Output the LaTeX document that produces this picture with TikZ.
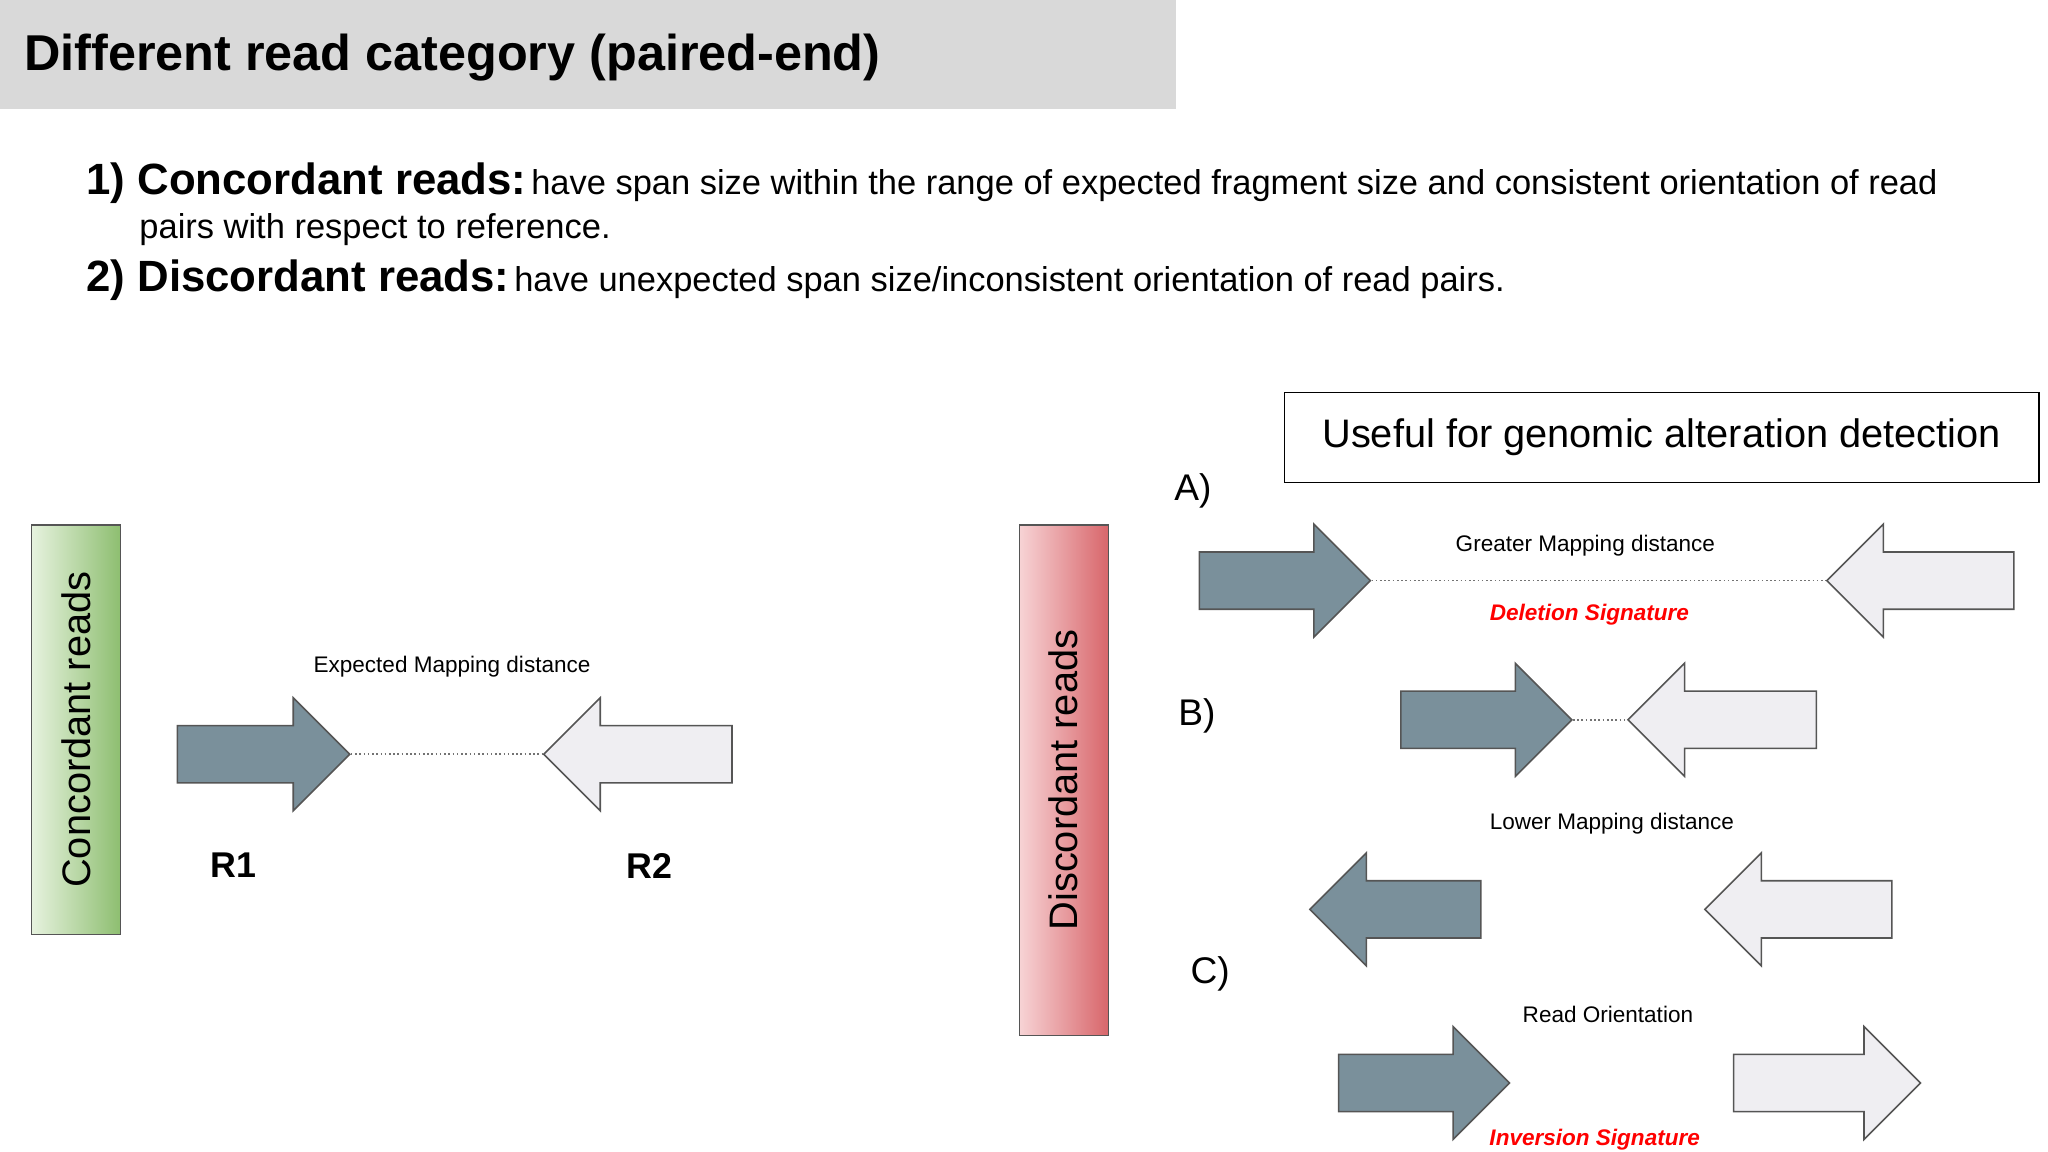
\documentclass[tikz,border=0pt]{standalone}
\usepackage{fontspec}
\setmainfont{Liberation Sans}
\usetikzlibrary{shapes.arrows}
\definecolor{darkread}{HTML}{7A909B}
\definecolor{lightread}{HTML}{EFEEF2}
\definecolor{edge}{HTML}{555555}
\definecolor{greenlo}{HTML}{E6F2DE}
\definecolor{greenhi}{HTML}{8DBE70}
\definecolor{redlo}{HTML}{F7D3D5}
\definecolor{redhi}{HTML}{D8666B}
\newcommand{\fs}[1]{\fontsize{#1}{#1}\selectfont}
\begin{document}
\begin{tikzpicture}[x=1pt,y=-1pt,
    read/.style={single arrow, draw=edge, line width=1.2pt, inner xsep=0pt,
        inner ysep=21pt, text height=0pt, text depth=0pt, text width=0pt,
        single arrow head extend=21pt, single arrow head indent=0pt},
    fwd/.style={read, minimum height=#1pt},
    rev/.style={read, minimum height=#1pt, shape border rotate=180},
    dark/.style={fill=darkread}, light/.style={fill=lightread},
    gap/.style={dotted, line width=1.2pt, draw=black!55},
    small/.style={font=\fs{17}},
    sig/.style={font=\fs{17}\bfseries\itshape, text=red},
    lab/.style={font=\fs{28}}]
\useasboundingbox (0,0) rectangle (1545,869);
% title
\node[fill=black!15, minimum width=887pt, minimum height=82pt, anchor=north west,
    inner sep=0pt] (titlebar) at (0,0) {};
\node[anchor=base west, inner sep=0pt, font=\fs{38}\bfseries] (title) at (18,53)
    {Different read category (paired-end)};
% definitions
\node[anchor=base west, inner sep=0pt] (def1) at (65,147)
    {{\fs{33}\bfseries 1) Concordant reads:} {\fs{26}have span size within the range of expected fragment size and consistent orientation of read}};
\node[anchor=base west, inner sep=0pt, font=\fs{26}] (def1b) at (105,180)
    {pairs with respect to reference.};
\node[anchor=base west, inner sep=0pt] (def2) at (65,220)
    {{\fs{33}\bfseries 2) Discordant reads:} {\fs{26}have unexpected span size/inconsistent orientation of read pairs.}};
% concordant
\node[draw=edge, line width=1pt, left color=greenlo, right color=greenhi,
    minimum width=67pt, minimum height=309pt, inner sep=0pt] (cbox) at (57.5,550.5) {};
\node[rotate=90, font=\fs{30}] (clab) at (cbox) {Concordant reads};
\node[fwd=130, dark] (r1) at (188,569) {};
\node[rev=142, light] (r2) at (492,569) {};
\draw[gap] (r1.tip) -- (r2.tip);
\node[small] (exp) at (341,503) {Expected Mapping distance};
\node[font=\fs{27}\bfseries] (r1l) at (176,653) {R1};
\node[font=\fs{27}\bfseries] (r2l) at (490,653) {R2};
% discordant
\node[draw=edge, line width=1pt, left color=redlo, right color=redhi,
    minimum width=67pt, minimum height=385pt, inner sep=0pt] (dbox) at (802.5,588.5) {};
\node[rotate=90, font=\fs{30}] (dlab) at (dbox) {Discordant reads};
\node[draw, line width=1.2pt, minimum width=569pt, minimum height=68pt, font=\fs{30}]
    (useful) at (1253.5,330) {Useful for genomic alteration detection};
\node[lab] (la) at (900,370) {A)};
\node[lab] (lb) at (903,540) {B)};
\node[lab] (lc) at (913,735) {C)};
% A
\node[fwd=129, dark] (a1) at (958.5,438) {};
\node[rev=141, light] (a2) at (1459.5,438) {};
\draw[gap] (a1.tip) -- (a2.tip);
\node[small] (amap) at (1196,412) {Greater Mapping distance};
\node[sig] (asig) at (1199,464) {Deletion Signature};
% B
\node[fwd=129, dark] (b1) at (1110.5,543) {};
\node[rev=142, light] (b2) at (1310,543) {};
\draw[gap] (b1.tip) -- (b2.tip);
\node[small] (bmap) at (1216,621) {Lower Mapping distance};
\node[rev=129, dark] (b3) at (1063.5,686) {};
\node[rev=141, light] (b4) at (1367.5,686) {};
% C
\node[small] (cmap) at (1213,765) {Read Orientation};
\node[fwd=129, dark] (c1) at (1063.5,817) {};
\node[fwd=141, light] (c2) at (1367.5,817) {};
\node[sig] (csig) at (1203,860) {Inversion Signature};
\end{tikzpicture}
\end{document}
